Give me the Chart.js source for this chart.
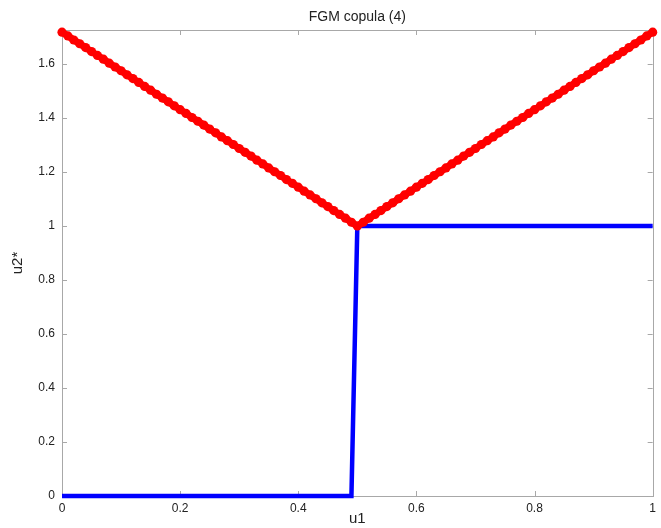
<!DOCTYPE html>
<html>
<head>
<meta charset="utf-8">
<script src="https://cdn.jsdelivr.net/npm/chart.js@4/dist/chart.umd.min.js"></script>
<style>
  html, body { margin: 0; padding: 0; background: #fff; }
  #wrap { width: 661px; height: 528px; position: relative; }
</style>
</head>
<body>
<div id="wrap"><canvas id="chart" width="661" height="528"></canvas></div>
<script>
// ==== data ====
// u1 grid (0 .. 1, step 0.01)
const u1 = [
  0.00,0.01,0.02,0.03,0.04,0.05,0.06,0.07,0.08,0.09,
  0.10,0.11,0.12,0.13,0.14,0.15,0.16,0.17,0.18,0.19,
  0.20,0.21,0.22,0.23,0.24,0.25,0.26,0.27,0.28,0.29,
  0.30,0.31,0.32,0.33,0.34,0.35,0.36,0.37,0.38,0.39,
  0.40,0.41,0.42,0.43,0.44,0.45,0.46,0.47,0.48,0.49,
  0.50,0.51,0.52,0.53,0.54,0.55,0.56,0.57,0.58,0.59,
  0.60,0.61,0.62,0.63,0.64,0.65,0.66,0.67,0.68,0.69,
  0.70,0.71,0.72,0.73,0.74,0.75,0.76,0.77,0.78,0.79,
  0.80,0.81,0.82,0.83,0.84,0.85,0.86,0.87,0.88,0.89,
  0.90,0.91,0.92,0.93,0.94,0.95,0.96,0.97,0.98,0.99,
  1.00
];

// red dotted curve (V shape)
const redValues = [
  1.718,1.704,1.689,1.675,1.661,1.646,1.632,1.618,1.603,1.589,
  1.575,1.560,1.546,1.532,1.517,1.503,1.488,1.474,1.460,1.445,
  1.431,1.417,1.402,1.388,1.374,1.359,1.345,1.330,1.316,1.302,
  1.287,1.273,1.259,1.244,1.230,1.215,1.201,1.187,1.172,1.158,
  1.144,1.129,1.115,1.101,1.086,1.072,1.057,1.043,1.029,1.014,
  1.000,
  1.014,1.029,1.043,1.057,1.072,1.086,1.101,1.115,1.129,1.144,
  1.158,1.172,1.187,1.201,1.215,1.230,1.244,1.259,1.273,1.287,
  1.302,1.316,1.330,1.345,1.359,1.374,1.388,1.402,1.417,1.431,
  1.445,1.460,1.474,1.488,1.503,1.517,1.532,1.546,1.560,1.575,
  1.589,1.603,1.618,1.632,1.646,1.661,1.675,1.689,1.704,1.718
];

// blue step line
const blueValues = [
  0,0,0,0,0,0,0,0,0,0, 0,0,0,0,0,0,0,0,0,0,
  0,0,0,0,0,0,0,0,0,0, 0,0,0,0,0,0,0,0,0,0,
  0,0,0,0,0,0,0,0,0,0,
  1,
  1,1,1,1,1,1,1,1,1,1, 1,1,1,1,1,1,1,1,1,1,
  1,1,1,1,1,1,1,1,1,1, 1,1,1,1,1,1,1,1,1,1,
  1,1,1,1,1,1,1,1,1,1
];

const xTicks = [0, 0.2, 0.4, 0.6, 0.8, 1];
const yTicks = [0, 0.2, 0.4, 0.6, 0.8, 1, 1.2, 1.4, 1.6];

const TITLE = "FGM copula (4)";
const X_LABEL = "u1";
const Y_LABEL = "u2*";

const FONT = "'Liberation Sans', Arial, Helvetica, sans-serif";
const AXIS_COLOR = "#a8a8a8";
const TEXT_COLOR = "#222";

function toXY(xs, ys) { return xs.map((x, i) => ({ x, y: ys[i] })); }

// MATLAB風の枠と内向きの目盛り、タイトルはプロット領域の中央に
const boxPlugin = {
  id: "box",
  beforeDatasetsDraw(c) {
    const { ctx, chartArea: a, scales } = c;
    ctx.save();
    ctx.strokeStyle = AXIS_COLOR;
    ctx.lineWidth = 1;
    ctx.strokeRect(Math.round(a.left) + 0.5, Math.round(a.top) + 0.5,
      Math.round(a.right - a.left), Math.round(a.bottom - a.top));
    const t = 5;
    ctx.beginPath();
    xTicks.forEach(v => {
      const px = Math.round(scales.x.getPixelForValue(v)) + 0.5;
      ctx.moveTo(px, a.bottom); ctx.lineTo(px, a.bottom - t);
      ctx.moveTo(px, a.top); ctx.lineTo(px, a.top + t);
    });
    yTicks.forEach(v => {
      const py = Math.round(scales.y.getPixelForValue(v)) + 0.5;
      ctx.moveTo(a.left, py); ctx.lineTo(a.left + t, py);
      ctx.moveTo(a.right, py); ctx.lineTo(a.right - t, py);
    });
    ctx.stroke();

    ctx.fillStyle = TEXT_COLOR;
    ctx.font = "14px " + FONT;
    ctx.textAlign = "center";
    ctx.textBaseline = "alphabetic";
    ctx.fillText(TITLE, (a.left + a.right) / 2, 21);
    ctx.restore();
  }
};

const chart = new Chart(document.getElementById("chart"), {
  type: "line",
  data: {
    datasets: [
      {
        data: toXY(u1, redValues),
        borderColor: "#ff0000",
        backgroundColor: "#ff0000",
        borderWidth: 7,
        pointRadius: 4.6,
        pointBorderWidth: 0,
        pointBackgroundColor: "#ff0000",
        clip: false
      },
      {
        data: toXY(u1, blueValues),
        borderColor: "#0000ff",
        borderWidth: 4.5,
        pointRadius: 0,
        clip: false
      }
    ]
  },
  options: {
    responsive: false,
    animation: false,
    layout: { padding: { left: 0, right: 8, top: 30, bottom: 0 } },
    plugins: {
      legend: { display: false },
      tooltip: { enabled: false },
      title: { display: false }
    },
    scales: {
      x: {
        type: "linear",
        min: 0, max: 1,
        afterBuildTicks: s => { s.ticks = xTicks.map(v => ({ value: v })); },
        afterFit: s => { s.height = 32; },
        grid: { display: false, drawTicks: false },
        border: { display: false },
        ticks: {
          color: TEXT_COLOR, padding: 5,
          font: { family: FONT, size: 12 },
          callback: v => String(v)
        },
        title: {
          display: true, text: X_LABEL, color: TEXT_COLOR,
          font: { family: FONT, size: 15 }, padding: { top: 0, bottom: 0 }
        }
      },
      y: {
        type: "linear",
        min: 0, max: 1.726,
        afterBuildTicks: s => { s.ticks = yTicks.map(v => ({ value: v })); },
        afterFit: s => { s.width = 62; },
        grid: { display: false, drawTicks: false },
        border: { display: false },
        ticks: {
          color: TEXT_COLOR, padding: 7,
          font: { family: FONT, size: 12 },
          callback: v => String(v)
        },
        title: {
          display: true, text: Y_LABEL, color: TEXT_COLOR,
          font: { family: FONT, size: 15 }, padding: { top: 9, bottom: 0 }
        }
      }
    }
  },
  plugins: [boxPlugin]
});
</script>
</body>
</html>
